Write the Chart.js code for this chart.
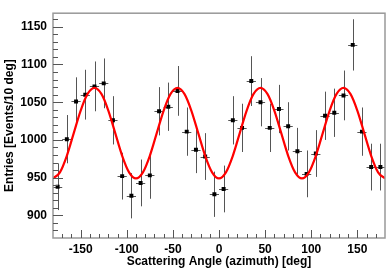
<!DOCTYPE html>
<html>
<head>
<meta charset="utf-8">
<script src="https://cdn.jsdelivr.net/npm/chart.js@4/dist/chart.umd.min.js"></script>
<style>
  html, body { margin: 0; padding: 0; background: #fff; }
  #wrap { width: 389px; height: 273px; }
</style>
</head>
<body>
<div id="wrap"><canvas id="myChart" width="389" height="273"></canvas></div>
<script>
// bin centres (deg), counts and errors
var angles = [-175,-165,-155,-145,-135,-125,-115,-105,-95,-85,-75,-65,-55,-45,-35,-25,-15,-5,
              5,15,25,35,45,55,65,75,85,95,105,115,125,135,145,155,165,175];
var counts = [938,1001,1051,1060,1071,1075,1026,952,926,943,953,1038,1044,1065,1011,987,978,928,
              935,1026,1016,1078,1050,1016,1041,1018,985,955,982,1032,1036,1059,1126,1011,964,964];
var errs   = [31,32,32,33,33,33,32,31,30,31,31,32,32,33,32,31,31,30,
              31,32,32,33,32,32,32,32,31,31,31,32,32,33,34,32,31,31];
var binHalf = 5;

var fitStep = 7.5;
var fitVals = [949,957,979,1009,1039,1061,1069,1061,1039,1009,979,957,
               949,957,979,1009,1039,1061,1069,1061,1039,1009,979,957,
               949,957,979,1009,1039,1061,1069,1061,1039,1009,979,957,
               949,957,979,1009,1039,1061,1069,1061,1039,1009,979,957,949];

var xTicks = [-150,-100,-50,0,50,100,150];
var yTicks = [900,950,1000,1050,1100,1150];
var xMin = -180, xMax = 180, yMin = 870, yMax = 1168;

var pts = angles.map(function(a, i) { return {x: a, y: counts[i]}; });
var fit = fitVals.map(function(v, i) { return {x: xMin + i * fitStep, y: v}; });

var FONT = {family: "'Liberation Sans', Arial, sans-serif", size: 12, weight: 'bold'};

// ROOT-ish frame, inside ticks and error bars
var rootStuff = {
  id: 'rootStuff',
  beforeDatasetsDraw: function(chart) {
    var c = chart.ctx, xs = chart.scales.x, ys = chart.scales.y;
    c.save();
    c.strokeStyle = '#555';
    c.lineWidth = 1;
    for (var i = 0; i < angles.length; i++) {
      var px = Math.round(xs.getPixelForValue(angles[i])) + 0.5;
      var py = Math.round(ys.getPixelForValue(counts[i])) + 0.5;
      c.beginPath();
      c.moveTo(px, ys.getPixelForValue(counts[i] - errs[i]));
      c.lineTo(px, ys.getPixelForValue(counts[i] + errs[i]));
      c.moveTo(xs.getPixelForValue(angles[i] - binHalf), py);
      c.lineTo(xs.getPixelForValue(angles[i] + binHalf), py);
      c.stroke();
    }
    c.restore();
  },
  afterDraw: function(chart) {
    var c = chart.ctx, xs = chart.scales.x, ys = chart.scales.y, a = chart.chartArea;
    c.save();
    c.strokeStyle = '#999';
    c.lineWidth = 1.5;
    c.strokeRect(a.left, a.top, a.right - a.left, a.bottom - a.top);
    c.strokeStyle = '#555';
    c.lineWidth = 1;
    c.beginPath();
    for (var v = 880; v <= 1160; v += 10) {
      var py = Math.round(ys.getPixelForValue(v)) + 0.5;
      var len = (v % 50 === 0) ? 10 : 5;
      c.moveTo(a.left, py);
      c.lineTo(a.left + len, py);
    }
    for (var d = -170; d <= 170; d += 10) {
      var px = Math.round(xs.getPixelForValue(d)) + 0.5;
      var len2 = (d % 50 === 0) ? 8 : 4;
      c.moveTo(px, a.bottom);
      c.lineTo(px, a.bottom - len2);
    }
    c.stroke();
    c.restore();
  }
};

var myChart = new Chart(document.getElementById('myChart'), {
  type: 'scatter',
  data: {
    datasets: [
      {
        type: 'line',
        data: fit,
        borderColor: '#ff0000',
        borderWidth: 2.2,
        pointRadius: 0,
        cubicInterpolationMode: 'monotone',
        fill: false,
        order: 0
      },
      {
        data: pts,
        pointStyle: 'rect',
        pointRadius: 2.8,
        backgroundColor: '#000',
        borderColor: '#000',
        borderWidth: 0,
        order: 1
      }
    ]
  },
  options: {
    responsive: false,
    animation: false,
    devicePixelRatio: 1,
    layout: {padding: {top: 1, right: 2, left: 0, bottom: 0}},
    plugins: {legend: {display: false}, tooltip: {enabled: false}},
    scales: {
      x: {
        type: 'linear', min: xMin, max: xMax,
        grid: {display: false, drawTicks: false},
        border: {display: false},
        afterFit: function(s) { s.height = 35; },
        afterBuildTicks: function(s) {
          s.ticks = xTicks.map(function(v) { return {value: v}; });
        },
        ticks: {color: '#000', font: FONT, padding: 4, maxRotation: 0, autoSkip: false,
                callback: function(v) { return String(v); }},
        title: {display: true, text: 'Scattering Angle (azimuth) [deg]', color: '#000', font: FONT, padding: {top: 0, bottom: 4}}
      },
      y: {
        type: 'linear', min: yMin, max: yMax,
        grid: {display: false, drawTicks: false},
        border: {display: false},
        afterFit: function(s) { s.width = 53; },
        afterBuildTicks: function(s) {
          s.ticks = yTicks.map(function(v) { return {value: v}; });
        },
        ticks: {color: '#000', font: FONT, padding: 6,
                callback: function(v) { return String(v); }},
        title: {display: true, text: 'Entries [Events/10 deg]', color: '#000', font: FONT, padding: {top: 2, bottom: 0}}
      }
    }
  },
  plugins: [rootStuff]
});
</script>
</body>
</html>
